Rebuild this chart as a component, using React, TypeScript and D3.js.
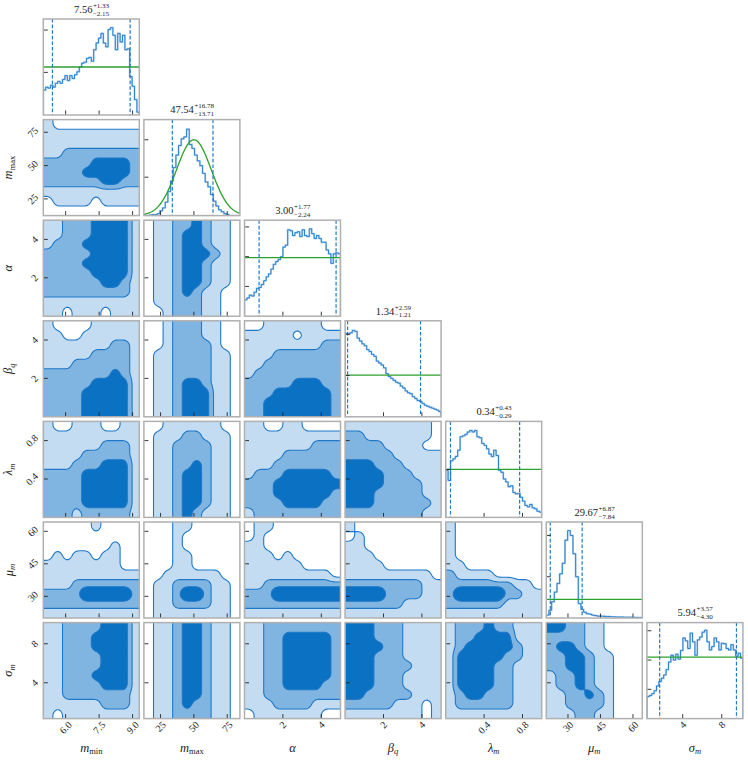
import React, { useMemo } from 'react';
import * as d3 from 'd3';

// ---------- data ----------
const LABEL_MAIN = ['m', 'm', 'α', 'β', 'λ', 'μ', 'σ'];
const LABEL_SUB = ['min', 'max', '', 'q', 'm', 'm', 'm'];
const LABEL_SUB_ITALIC = [false, false, false, true, true, true, true];

const DOMAINS: [number, number][] = [[5.0, 9.3], [12.5, 84.5], [0, 5], [0, 5], [0, 1], [20, 64.3], [0.33, 10.17]];
const TICKS = [[6.0, 7.5, 9.0], [25, 50, 75], [2, 4], [2, 4], [0.4, 0.8], [30, 45, 60], [4, 8]];
const TICK_LABELS = [['6.0', '7.5', '9.0'], ['25', '50', '75'], ['2', '4'], ['2', '4'], ['0.4', '0.8'], ['30', '45', '60'], ['4', '8']];

const MEDIANS = [7.56, 47.54, 3.0, 1.34, 0.34, 29.67, 5.94];
const UPPER = [1.33, 16.78, 1.77, 2.59, 0.43, 6.87, 3.57];
const LOWER = [2.15, 13.71, 2.24, 1.21, 0.29, 7.84, 4.3];

const HIST_MMIN = [0.26, 0.29, 0.28, 0.31, 0.29, 0.33, 0.35, 0.33, 0.37, 0.41, 0.36, 0.41, 0.38, 0.42, 0.45, 0.5, 0.54, 0.55, 0.59, 0.6, 0.56, 0.68, 0.75, 0.8, 0.85, 0.75, 0.71, 0.89, 0.91, 0.83, 0.68, 0.85, 0.76, 0.83, 0.68, 0.69, 0.4, 0.3, 0.16, 0.03];
const HIST_MMAX = [0, 0, 0.005, 0.01, 0.01, 0.02, 0.05, 0.08, 0.14, 0.25, 0.36, 0.5, 0.63, 0.73, 0.8, 0.82, 0.9, 0.74, 0.7, 0.63, 0.57, 0.52, 0.44, 0.35, 0.3, 0.22, 0.15, 0.1, 0.06, 0.04, 0.02, 0.01, 0, 0, 0, 0];
const HIST_ALPHA = [0.17, 0.19, 0.22, 0.21, 0.25, 0.29, 0.3, 0.33, 0.37, 0.41, 0.44, 0.49, 0.54, 0.57, 0.59, 0.62, 0.72, 0.74, 0.9, 0.89, 0.84, 0.87, 0.88, 0.83, 0.9, 0.84, 0.83, 0.91, 0.86, 0.81, 0.84, 0.81, 0.77, 0.77, 0.69, 0.65, 0.55, 0.65, 0.66, 0.65];
const HIST_BETA = [0.87, 0.86, 0.875, 0.9, 0.89, 0.82, 0.79, 0.76, 0.74, 0.7, 0.68, 0.65, 0.63, 0.58, 0.56, 0.54, 0.51, 0.45, 0.42, 0.4, 0.38, 0.36, 0.35, 0.32, 0.3, 0.27, 0.25, 0.24, 0.21, 0.19, 0.17, 0.16, 0.14, 0.12, 0.11, 0.1, 0.09, 0.08, 0.07, 0.055];
const HIST_LAMBDA = [0.49, 0.385, 0.59, 0.61, 0.635, 0.7, 0.84, 0.85, 0.865, 0.89, 0.905, 0.89, 0.905, 0.84, 0.83, 0.77, 0.75, 0.715, 0.66, 0.635, 0.7, 0.645, 0.49, 0.47, 0.4, 0.37, 0.32, 0.33, 0.26, 0.245, 0.25, 0.21, 0.17, 0.125, 0.11, 0.135, 0.1, 0.09, 0.065, 0.055];
const HIST_MU = [0.03, 0.08, 0.17, 0.27, 0.36, 0.46, 0.57, 0.81, 0.91, 0.86, 0.67, 0.43, 0.15, 0.09, 0.06, 0.045, 0.04, 0.03, 0.025, 0.02, 0.02, 0.018, 0.015, 0.015, 0.012, 0.012, 0.01, 0.01, 0.01, 0.008, 0.008, 0.008, 0.006, 0.006, 0.005, 0.005];
const HIST_SIGMA = [0.23, 0.24, 0.26, 0.29, 0.34, 0.385, 0.42, 0.455, 0.51, 0.59, 0.66, 0.61, 0.67, 0.62, 0.71, 0.84, 0.81, 0.73, 0.89, 0.8, 0.66, 0.82, 0.85, 0.9, 0.92, 0.8, 0.715, 0.75, 0.84, 0.8, 0.715, 0.785, 0.78, 0.73, 0.715, 0.77, 0.715, 0.65, 0.68, 0.63];
const HISTS = [HIST_MMIN, HIST_MMAX, HIST_ALPHA, HIST_BETA, HIST_LAMBDA, HIST_MU, HIST_SIGMA];

const HIST_YTICKS = [[0.444, 0.885], [0.4, 0.79], [0.31, 0.62, 0.93], [0.43, 0.86], [0.5, 1.0], [0.43, 0.86], [0.305, 0.61, 0.915]];
const PRIOR_LEVEL: (number | null)[] = [0.5, null, 0.61, 0.434, 0.5, 0.195, 0.64];
const PRIOR_MMAX = { mean: 50, sd: 13, peak: 0.79 };

// 2D density levels (0 white, 1 light, 2 mid, >=3 dark); rows top -> bottom
const G10 = ['1000000000', '1111111111', '1111111111', '1122222222', '2222233332', '2222333332', '2222223322', '1111111111', '0111101111', '0000000000'];
const G20 = ['1122233331', '1122233331', '1222333331', '2222233331', '2222333331', '2222233331', '2222223321', '2222222221', '1111111111', '1101110111'];
const G30 = ['1000011111', '1100111111', '1111111221', '1111122221', '1112222221', '2222222321', '2222233331', '2222333331', '2222333331', '2222333331'];
const G40 = ['1001110011', '1111111111', '1111112221', '1111222221', '1112223331', '2222333331', '2222333331', '2222333331', '2222333331', '2221222221'];
const G50 = ['0000010000', '0000000000', '0000000100', '0101101100', '1111111100', '1111111111', '1112222222', '2222444442', '2222222222', '1111111111'];
const G60 = ['1122223331', '1122233331', '1122233331', '1122223331', '1122223331', '1122233331', '1122223331', '1122222221', '1111112221', '1011111111'];
const G21 = ['0112232110', '0112332110', '0112332110', '0112333210', '0112332110', '0112332110', '0112332110', '0112321100', '0112221100', '0012221100'];
const G31 = ['0012221100', '0012221100', '0012222100', '0112222110', '0112222110', '0112222110', '0112332110', '0112333110', '0112333110', '0112333110'];
const G41 = ['0011111100', '0111221110', '0112222110', '0112222110', '0112232110', '0112332110', '0112332110', '0112332110', '0112332110', '0112321110'];
const G51 = ['0001100000', '0001000000', '0001000000', '0001100000', '0001100000', '0011111100', '0112222110', '0112442110', '0112222110', '0111111110'];
const G61 = ['0112332110', '0112332110', '0112332110', '0112332110', '0112332110', '0112332110', '0112332110', '0112332110', '0112322110', '0112222110'];
const G32 = ['0011111100', '1111101111', '1111111122', '1112222222', '1122222222', '1222222222', '2222233322', '2223333332', '2233333332', '2233333332'];
const G42 = ['1100110000', '1111111111', '1111111222', '1111222222', '1112222222', '1222333332', '2223333333', '2223333332', '2222333322', '1222222222'];
const G52 = ['0110000000', '0100000000', '1100000000', '1110100000', '1111110000', '1111111110', '1122222222', '2224444444', '2222222222', '1111111111'];
const G62 = ['1122222222', '1122333332', '1122333332', '1122333332', '1122333332', '1122333332', '1122333322', '1122222222', '1112222111', '0111111100'];
const G43 = ['1111111110', '2211111110', '2222111100', '2222211111', '3332221111', '3333222111', '3333222211', '3332222211', '3332222221', '2222222211'];
const G53 = ['1000000000', '0100000000', '1100000000', '1110000000', '1111000000', '1111111110', '2222222211', '4444222211', '2222221111', '1111111111'];
const G63 = ['3332221111', '3332221111', '3333221111', '3332221111', '3332222111', '3332221111', '3332221111', '3322222111', '2222211101', '1111111101'];
const G54 = ['1000000000', '1000000000', '1000000000', '1000000000', '1100000000', '2111100000', '2222222110', '2444442211', '2222221111', '1111111111'];
const G64 = ['1222322111', '1223333111', '1233333211', '1333332211', '1333322111', '1333322111', '1333322111', '1233222111', '1222222111', '1111111111'];
const G65 = ['3322110000', '2222110000', '2332110000', '2233211000', '2233211000', '1223211000', '1223211000', '1122321000', '1122221000', '1112211000'];

const GRIDS: { row: number; col: number; rows: string[] }[] = [
  { row: 1, col: 0, rows: G10 }, { row: 2, col: 0, rows: G20 }, { row: 3, col: 0, rows: G30 },
  { row: 4, col: 0, rows: G40 }, { row: 5, col: 0, rows: G50 }, { row: 6, col: 0, rows: G60 },
  { row: 2, col: 1, rows: G21 }, { row: 3, col: 1, rows: G31 }, { row: 4, col: 1, rows: G41 },
  { row: 5, col: 1, rows: G51 }, { row: 6, col: 1, rows: G61 },
  { row: 3, col: 2, rows: G32 }, { row: 4, col: 2, rows: G42 }, { row: 5, col: 2, rows: G52 }, { row: 6, col: 2, rows: G62 },
  { row: 4, col: 3, rows: G43 }, { row: 5, col: 3, rows: G53 }, { row: 6, col: 3, rows: G63 },
  { row: 5, col: 4, rows: G54 }, { row: 6, col: 4, rows: G64 },
  { row: 6, col: 5, rows: G65 },
];

// ---------- layout / style ----------
const W = 748, H = 762;
const NP = 7;
const X0 = 43.3, Y0 = 19, SIZE = 96, STEP = 100.6;
const FONT = '"Liberation Serif", "DejaVu Serif", serif';
const LEVEL_FILL = ['#c3dcf1', '#80b4e1', '#0a71c3'];
const LINE = '#1f78c8';
const GREEN = '#2ca02c';
const FRAME = '#b0b0b0';
const TXT = '#222';

const CW: Record<string, number> = { '.': 0.25, '+': 0.564, '−': 0.564 };
const estW = (s: string, fs: number) => Array.from(s).reduce((a, c) => a + (CW[c] ?? 0.5) * fs, 0);

const px = (k: number) => X0 + k * STEP;
const py = (k: number) => Y0 + k * STEP;

function contourPaths(rows: string[], x0: number, y0: number) {
  const g = rows.map((r) => r.split('').map(Number));
  const gn = g.length, gm = g[0].length;
  const E = 3, R = 64;
  const span = SIZE + 2 * E;
  let vals = new Float64Array(R * R);
  for (let j = 0; j < R; j++) {
    for (let i = 0; i < R; i++) {
      const fx = ((i + 0.5) / R * span - E) / SIZE;
      const fy = ((j + 0.5) / R * span - E) / SIZE;
      const u = Math.max(0, Math.min(gm - 1, fx * gm - 0.5));
      const v = Math.max(0, Math.min(gn - 1, fy * gn - 0.5));
      const u0 = Math.floor(u), v0 = Math.floor(v);
      const u1 = Math.min(gm - 1, u0 + 1), v1 = Math.min(gn - 1, v0 + 1);
      const du = u - u0, dv = v - v0;
      vals[j * R + i] =
        g[v0][u0] * (1 - du) * (1 - dv) + g[v0][u1] * du * (1 - dv) +
        g[v1][u0] * (1 - du) * dv + g[v1][u1] * du * dv;
    }
  }
  const out = new Float64Array(R * R);
  for (let j = 0; j < R; j++) {
    for (let i = 0; i < R; i++) {
      let s = 0, c = 0;
      for (let dj = -1; dj <= 1; dj++) for (let di = -1; di <= 1; di++) {
        const ii = Math.max(0, Math.min(R - 1, i + di));
        const jj = Math.max(0, Math.min(R - 1, j + dj));
        s += vals[jj * R + ii]; c++;
      }
      out[j * R + i] = s / c;
    }
  }
  vals = out;
  const cs = d3.contours().size([R, R]).thresholds([0.5, 1.5, 2.5])(Array.from(vals));
  const tx = (c: number) => x0 - E + (c / R) * span;
  const ty = (c: number) => y0 - E + (c / R) * span;
  return cs.map((mp) =>
    mp.coordinates
      .map((poly) => poly.map((ring) => 'M' + ring.map((p) => `${tx(p[0]).toFixed(2)},${ty(p[1]).toFixed(2)}`).join('L') + 'Z').join(''))
      .join('')
  );
}

function MathLabel({ x, y, k, rotate }: { x: number; y: number; k: number; rotate?: boolean }) {
  return (
    <text x={x} y={y} textAnchor="middle" fontFamily={FONT} fontSize={12.5} fill={TXT}
      transform={rotate ? `rotate(-90 ${x} ${y})` : undefined}>
      <tspan fontStyle="italic">{LABEL_MAIN[k]}</tspan>
      {LABEL_SUB[k] ? (
        <tspan fontSize={8.5} dy={2.6} fontStyle={LABEL_SUB_ITALIC[k] ? 'italic' : 'normal'}>{LABEL_SUB[k]}</tspan>
      ) : null}
    </text>
  );
}

export default function App() {
  const sx = DOMAINS.map((d, k) => d3.scaleLinear().domain(d).range([px(k), px(k) + SIZE]));
  const sy = DOMAINS.map((d, k) => d3.scaleLinear().domain(d).range([py(k) + SIZE, py(k)]));

  const contours = useMemo(() => GRIDS.map((gd) => ({ ...gd, paths: contourPaths(gd.rows, px(gd.col), py(gd.row)) })), []);

  const panels: JSX.Element[] = [];

  contours.forEach((c) => {
    const id = `clip-${c.row}-${c.col}`;
    panels.push(
      <g key={id}>
        <clipPath id={id}><rect x={px(c.col)} y={py(c.row)} width={SIZE} height={SIZE} /></clipPath>
        <g clipPath={`url(#${id})`}>
          {c.paths.map((p, l) => <path key={'f' + l} d={p} fill={LEVEL_FILL[l]} fillRule="evenodd" stroke="none" />)}
          {c.paths.map((p, l) => <path key={'s' + l} d={p} fill="none" stroke={LINE} strokeWidth={1.1} />)}
        </g>
      </g>
    );
  });

  for (let k = 0; k < NP; k++) {
    const vals = HISTS[k];
    const [a, b] = DOMAINS[k];
    const bw = (b - a) / vals.length;
    const yh = d3.scaleLinear().domain([0, 1]).range([py(k) + SIZE, py(k)]);
    const pts: [number, number][] = [[a, 0]];
    vals.forEach((v, i) => { pts.push([a + i * bw, v]); pts.push([a + (i + 1) * bw, v]); });
    pts.push([b, 0]);
    const line = d3.line<[number, number]>().x((d) => sx[k](d[0])).y((d) => yh(d[1]));
    const id = `clip-d-${k}`;
    const lo = MEDIANS[k] - LOWER[k], hi = MEDIANS[k] + UPPER[k];
    let prior: JSX.Element | null = null;
    if (PRIOR_LEVEL[k] !== null) {
      prior = <line x1={px(k)} x2={px(k) + SIZE} y1={yh(PRIOR_LEVEL[k] as number)} y2={yh(PRIOR_LEVEL[k] as number)} stroke={GREEN} strokeWidth={1.3} />;
    } else {
      const xs = d3.range(0, 201).map((i) => a + (b - a) * i / 200);
      const g = d3.line<number>().x((v) => sx[k](v)).y((v) => yh(PRIOR_MMAX.peak * Math.exp(-0.5 * ((v - PRIOR_MMAX.mean) / PRIOR_MMAX.sd) ** 2)));
      prior = <path d={g(xs) || ''} fill="none" stroke={GREEN} strokeWidth={1.3} />;
    }
    panels.push(
      <g key={id}>
        <clipPath id={id}><rect x={px(k)} y={py(k)} width={SIZE} height={SIZE} /></clipPath>
        <g clipPath={`url(#${id})`}>
          <path d={line(pts) || ''} fill="none" stroke="#b3d4f0" strokeWidth={1.9} />
          <path d={line(pts) || ''} fill="none" stroke={LINE} strokeWidth={0.9} />
          {prior}
          {[lo, hi].map((v, i) => (
            <line key={i} x1={sx[k](v)} x2={sx[k](v)} y1={py(k)} y2={py(k) + SIZE} stroke={LINE} strokeWidth={1.2} strokeDasharray="3.6,2" />
          ))}
        </g>
      </g>
    );
  }

  const decor: JSX.Element[] = [];
  for (let r = 0; r < NP; r++) {
    for (let c = 0; c <= r; c++) {
      const x0 = px(c), y0 = py(r);
      const ticks: JSX.Element[] = [];
      TICKS[c].forEach((t, i) => {
        const x = sx[c](t);
        ticks.push(<line key={'x' + i} x1={x} x2={x} y1={y0 + SIZE} y2={y0 + SIZE - 4.5} stroke={TXT} strokeWidth={0.9} />);
      });
      if (r === c) {
        const yh = d3.scaleLinear().domain([0, 1]).range([y0 + SIZE, y0]);
        HIST_YTICKS[r].forEach((t, i) => {
          const y = yh(t);
          ticks.push(<line key={'y' + i} x1={x0} x2={x0 + 4.5} y1={y} y2={y} stroke={TXT} strokeWidth={0.9} />);
        });
      } else {
        TICKS[r].forEach((t, i) => {
          const y = sy[r](t);
          ticks.push(<line key={'y' + i} x1={x0} x2={x0 + 4.5} y1={y} y2={y} stroke={TXT} strokeWidth={0.9} />);
        });
      }
      decor.push(
        <g key={`dec-${r}-${c}`}>
          {ticks}
          <rect x={x0} y={y0} width={SIZE} height={SIZE} fill="none" stroke={FRAME} strokeWidth={1.5} />
        </g>
      );
    }
  }

  const labels: JSX.Element[] = [];
  const bottom = py(NP - 1) + SIZE;
  for (let c = 0; c < NP; c++) {
    TICKS[c].forEach((t, i) => {
      const s = TICK_LABELS[c][i];
      const B = (estW(s, 10) + 7) * 0.7071;
      const cx = sx[c](t), cy = bottom + 2 + B / 2;
      labels.push(
        <text key={`xl-${c}-${i}`} x={cx} y={cy} textAnchor="middle" dominantBaseline="central" fontFamily={FONT} fontSize={10} fill={TXT}
          transform={`rotate(-45 ${cx} ${cy})`}>{s}</text>
      );
    });
  }
  for (let r = 1; r < NP; r++) {
    TICKS[r].forEach((t, i) => {
      const s = TICK_LABELS[r][i];
      const B = (estW(s, 10) + 7) * 0.7071;
      const cx = X0 - 4.5 - B / 2, cy = sy[r](t);
      labels.push(
        <text key={`yl-${r}-${i}`} x={cx} y={cy} textAnchor="middle" dominantBaseline="central" fontFamily={FONT} fontSize={10} fill={TXT}
          transform={`rotate(-45 ${cx} ${cy})`}>{s}</text>
      );
    });
  }

  const titles = MEDIANS.map((m, k) => {
    const t = m.toFixed(2), sup = '+' + UPPER[k].toFixed(2), sub = '−' + LOWER[k].toFixed(2);
    const mw = estW(t, 10.5), sw = Math.max(estW(sup, 7), estW(sub, 7));
    const cx = px(k) + SIZE / 2;
    const start = cx - (mw + sw) / 2;
    const top = py(k);
    return (
      <g key={'title' + k} fontFamily={FONT} fill={TXT}>
        <text x={start} y={top - 6.3} fontSize={10.5}>{t}</text>
        <text x={start + mw + 0.5} y={top - 11.2} fontSize={7}>{sup}</text>
        <text x={start + mw + 0.5} y={top - 3.4} fontSize={7}>{sub}</text>
      </g>
    );
  });

  const axisLabels: JSX.Element[] = [];
  for (let c = 0; c < NP; c++) axisLabels.push(<MathLabel key={'bl' + c} x={px(c) + SIZE / 2} y={751.5} k={c} />);
  for (let r = 1; r < NP; r++) axisLabels.push(<MathLabel key={'ll' + r} x={12.5} y={py(r) + SIZE / 2} k={r} rotate />);

  return (
    <svg width={W} height={H} style={{ position: 'absolute', left: 0, top: 0, background: '#fff' }} xmlns="http://www.w3.org/2000/svg">
      <rect x={0} y={0} width={W} height={H} fill="#fff" />
      {panels}
      {decor}
      {labels}
      {titles}
      {axisLabels}
    </svg>
  );
}
